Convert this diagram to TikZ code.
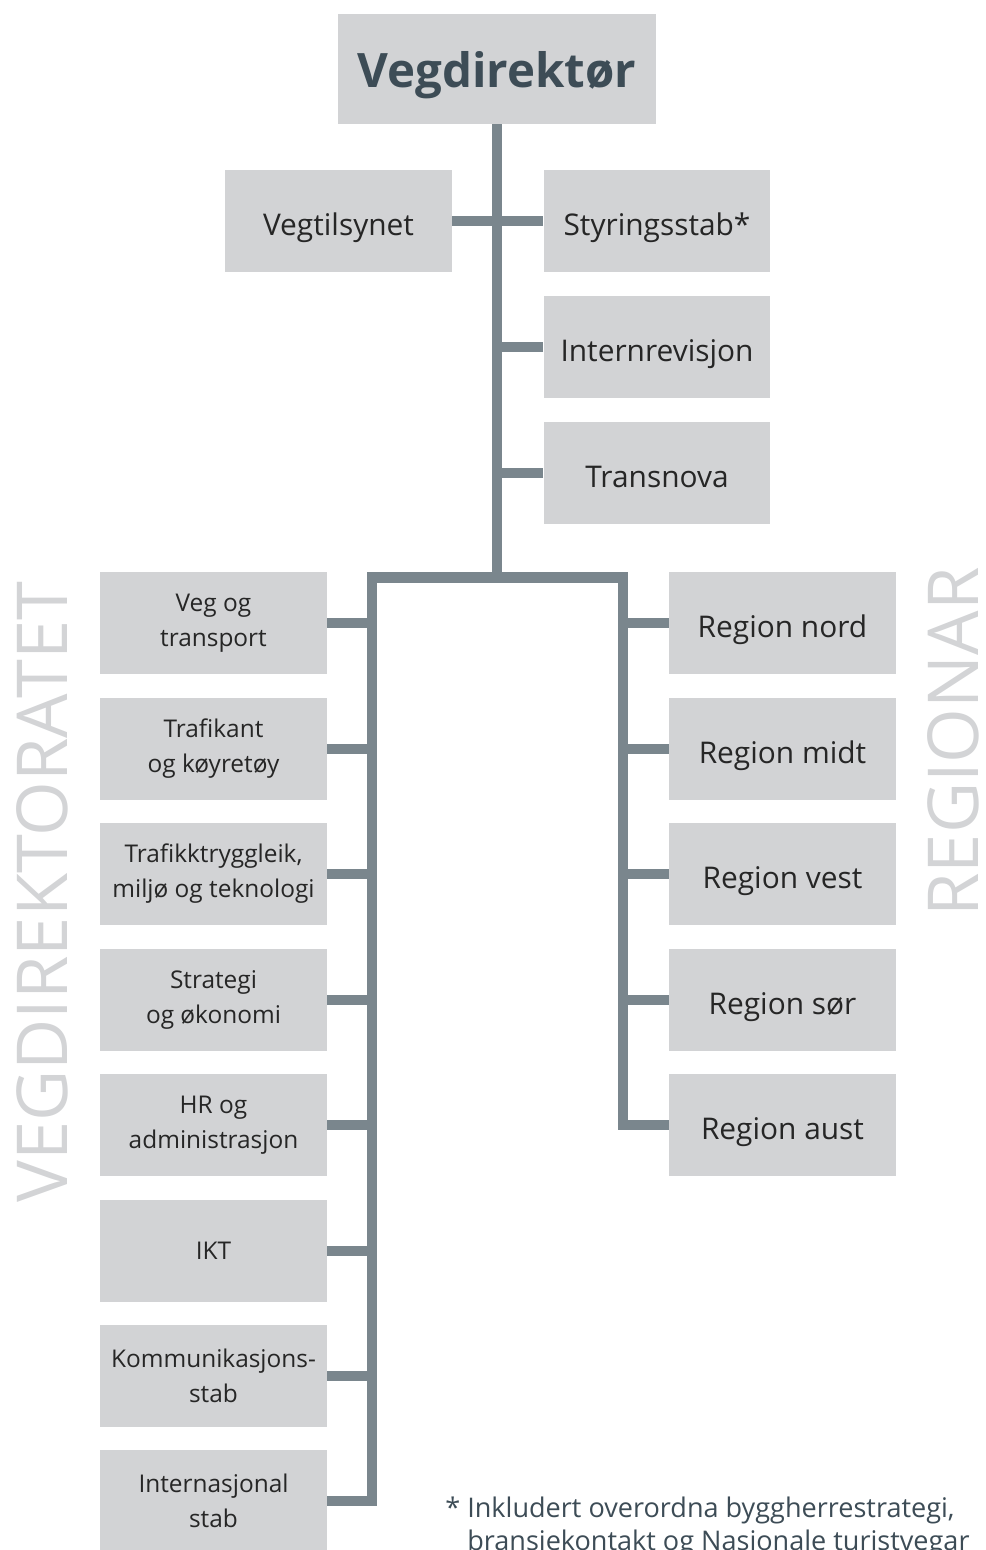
\documentclass[tikz,border=0pt]{standalone}
\usepackage{fontspec}
\setmainfont{Open Sans}
\definecolor{boxgray}{HTML}{D2D3D5}
\definecolor{linegray}{HTML}{7A868D}
\definecolor{headgray}{HTML}{3D4C56}
\definecolor{labelgray}{HTML}{D3D4D6}
\definecolor{textgray}{HTML}{262626}

\tikzset{
  orgbox/.style={fill=boxgray, minimum width=4.54cm, minimum height=2.04cm, inner sep=0pt,
    text=textgray, align=center, text height=17pt, text depth=0pt, font=\fontsize{17}{22}\selectfont},
  deptbox/.style={fill=boxgray, minimum width=4.54cm, minimum height=2.04cm, inner sep=0pt,
    text=textgray, align=center, font=\fontsize{13.9}{20}\selectfont},
  link/.style={draw=linegray, line width=6pt},
  sidelabel/.style={text=labelgray, rotate=90, inner sep=0pt, font=\fontsize{40}{40}\selectfont},
}

\begin{document}
\begin{tikzpicture}[x=0.02cm, y=-0.02cm]
            \clip (0,0) rectangle (985,1550);

            \node[orgbox, minimum width=6.38cm, minimum height=2.2cm, text=headgray, text height=21.6pt,
                  font=\fontsize{27}{30}\selectfont\bfseries] (dir) at (497,69) {Vegdirektør};

            \node[orgbox] (tilsyn) at (338.5,221) {Vegtilsynet};
            \node[orgbox] (styring) at (657,221) {Styringsstab*};
            \node[orgbox] (intern) at (657,347) {Internrevisjon};
            \node[orgbox] (transnova) at (657,473) {Transnova};

            \node[deptbox] (vegtr) at (213.5,623) {Veg og\\transport};
            \node[deptbox] (trafikant) at (213.5,749) {Trafikant\\og køyretøy};
            \node[deptbox] (tryggleik) at (213.5,874) {Trafikktryggleik,\\miljø og teknologi};
            \node[deptbox] (strategi) at (213.5,1000) {Strategi\\og økonomi};
            \node[deptbox] (hr) at (213.5,1125) {HR og\\administrasjon};
            \node[deptbox] (ikt) at (213.5,1251) {IKT};
            \node[deptbox] (kommstab) at (213.5,1376) {Kommunikasjons-\\stab};
            \node[deptbox] (intstab) at (213.5,1501) {Internasjonal\\stab};

            \node[orgbox] (rnord) at (782.5,623) {Region nord};
            \node[orgbox] (rmidt) at (782.5,749) {Region midt};
            \node[orgbox] (rvest) at (782.5,874) {Region vest};
            \node[orgbox] (rsor) at (782.5,1000) {Region sør};
            \node[orgbox] (raust) at (782.5,1125) {Region aust};

            \node[sidelabel] (vegdir) at (42,892) {VEGDIREKTORATET};
            \node[sidelabel] (regionar) at (953,742) {REGIONAR};

            \node[anchor=north west, inner sep=0pt, text=headgray, align=left,
                  font=\fontsize{15.4}{18.5}\selectfont] (note) at (445,1497)
                 {*~Inkludert overordna byggherrestrategi,\\\hphantom{*~}bransjekontakt og Nasjonale turistvegar};

            \coordinate (lsplit) at (372,577.5);
            \coordinate (rsplit) at (623,577.5);

            \draw[link] (dir.south) -- (dir.south |- lsplit);
            \draw[link] (tilsyn.east) -- (styring.west);
            \draw[link] (intern.west) -- (intern.west -| dir.south);
            \draw[link] (transnova.west) -- (transnova.west -| dir.south);
            \draw[link] (raust.west) -| (rsplit) -- (lsplit) |- (intstab.east);

            \draw[link] (vegtr.east) -- (vegtr.east -| lsplit);
            \draw[link] (trafikant.east) -- (trafikant.east -| lsplit);
            \draw[link] (tryggleik.east) -- (tryggleik.east -| lsplit);
            \draw[link] (strategi.east) -- (strategi.east -| lsplit);
            \draw[link] (hr.east) -- (hr.east -| lsplit);
            \draw[link] (ikt.east) -- (ikt.east -| lsplit);
            \draw[link] (kommstab.east) -- (kommstab.east -| lsplit);

            \draw[link] (rnord.west) -- (rnord.west -| rsplit);
            \draw[link] (rmidt.west) -- (rmidt.west -| rsplit);
            \draw[link] (rvest.west) -- (rvest.west -| rsplit);
            \draw[link] (rsor.west) -- (rsor.west -| rsplit);
        \end{tikzpicture}
\end{document}
